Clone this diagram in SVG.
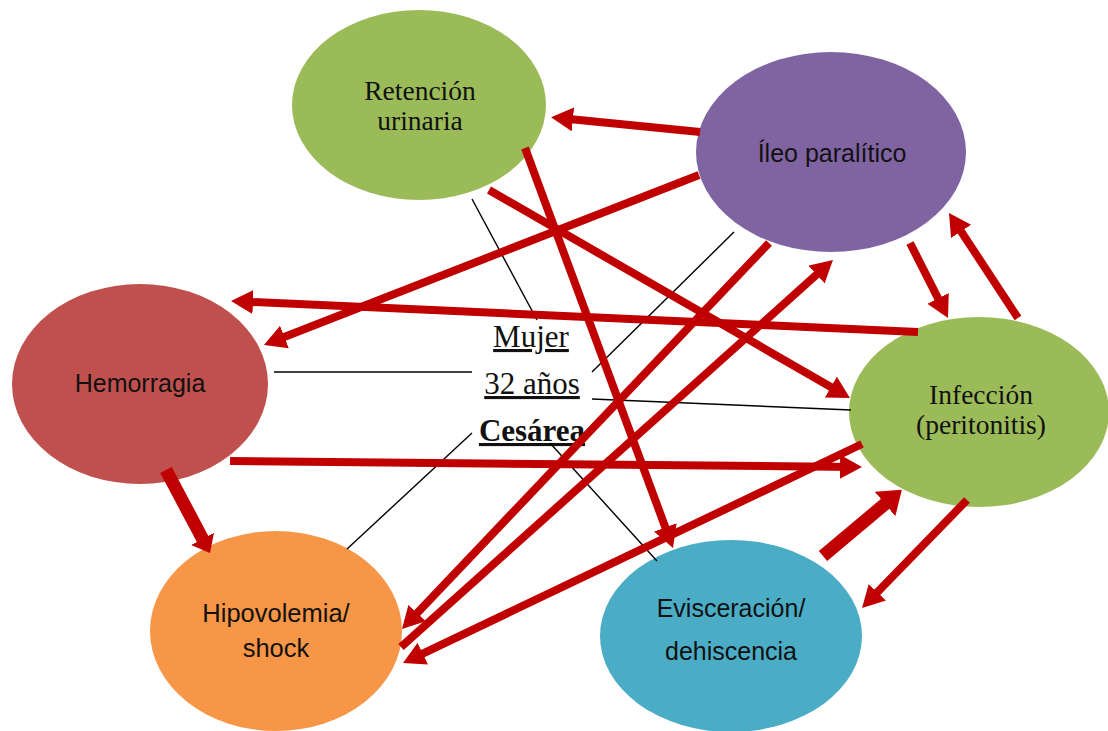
<svg xmlns="http://www.w3.org/2000/svg" width="1108" height="731" viewBox="0 0 1108 731">
<style>
.serif{font-family:"Liberation Serif","Times New Roman",serif;fill:#111;text-anchor:middle}
.sans{font-family:"Liberation Sans",Arial,sans-serif;fill:#111;text-anchor:middle}
.arr{stroke:#C00000;stroke-width:8;fill:none;marker-end:url(#ah)}
.arrb{stroke:#C00000;stroke-width:13;fill:none}
.thin{stroke:#000;stroke-width:1.4;fill:none}
.center{font-size:31px;text-decoration:underline}
</style>
<defs>
<marker id="ah" markerUnits="userSpaceOnUse" markerWidth="24" markerHeight="26" refX="14" refY="12" orient="auto">
<path d="M0,0 L22,12 L0,24 z" fill="#C00000"/>
</marker>
<marker id="ahb" markerUnits="userSpaceOnUse" markerWidth="20" markerHeight="30" refX="7" refY="13" orient="auto">
<path d="M0,0 L16,13 L0,26 z" fill="#C00000"/>
</marker>
<marker id="ahc" markerUnits="userSpaceOnUse" markerWidth="26" markerHeight="34" refX="10" refY="16" orient="auto">
<path d="M0,0 L22,16 L0,32 z" fill="#C00000"/>
</marker>
</defs>
<rect width="1108" height="731" fill="#fff"/>

<g id="retencion">
<ellipse cx="419" cy="105" rx="127" ry="95" fill="#9BBB59"/>
<text class="serif" x="420" y="100" font-size="27.5">Retención</text>
<text class="serif" x="420" y="130" font-size="27.5">urinaria</text>
</g>
<g id="ileo">
<ellipse cx="831" cy="152" rx="135" ry="100" fill="#8064A2"/>
<text class="sans" x="832" y="162" font-size="25">Íleo paralítico</text>
</g>
<g id="hemorragia">
<ellipse cx="140" cy="384" rx="128" ry="100" fill="#C0504D"/>
<text class="sans" x="140" y="392" font-size="25">Hemorragia</text>
</g>
<g id="infeccion">
<ellipse cx="979" cy="412" rx="130" ry="95" fill="#9BBB59"/>
<text class="serif" x="981" y="404" font-size="27.5">Infección</text>
<text class="serif" x="981" y="434" font-size="27.5">(peritonitis)</text>
</g>
<g id="hipovolemia">
<ellipse cx="276" cy="631" rx="126" ry="100" fill="#F79646"/>
<text class="sans" x="276" y="622" font-size="25.5">Hipovolemia/</text>
<text class="sans" x="276" y="657" font-size="25.5">shock</text>
</g>
<g id="evisceracion">
<ellipse cx="731" cy="636" rx="131" ry="96" fill="#4BACC6"/>
<text class="sans" x="731" y="617" font-size="25">Evisceración/</text>
<text class="sans" x="731" y="660" font-size="25">dehiscencia</text>
</g>

<g id="paciente">
<text class="serif center" x="531" y="347">Mujer</text>
<text class="serif center" x="532" y="394">32 años</text>
<text class="serif center" x="532" y="441" font-weight="bold">Cesárea</text>
</g>

<g id="connectors">
<line class="thin" x1="472" y1="199" x2="537" y2="320"/>
<line class="thin" x1="274" y1="372" x2="472" y2="372"/>
<line class="thin" x1="734" y1="232" x2="592" y2="372"/>
<line class="thin" x1="592" y1="399" x2="851" y2="410"/>
<line class="thin" x1="472" y1="433" x2="347" y2="549"/>
<line class="thin" x1="550" y1="443" x2="657" y2="561"/>

<line class="arr" x1="700" y1="132" x2="559" y2="118"/>
<line class="arr" x1="699" y1="175" x2="271.4" y2="342.1"/>
<line class="arr" x1="918" y1="332" x2="239" y2="301.4"/>
<line class="arr" x1="489" y1="190" x2="843" y2="394"/>
<line class="arr" x1="525" y1="148" x2="670.2" y2="540.5"/>
<line class="arr" x1="910" y1="243" x2="944.4" y2="310.9"/>
<line class="arr" x1="1018" y1="318" x2="953.4" y2="219.7"/>
<line class="arr" x1="230" y1="461" x2="854" y2="466.9"/>
<line class="arr" x1="769" y1="243" x2="407.5" y2="623.2"/>
<line class="arr" x1="401" y1="647" x2="827" y2="265.3"/>
<line class="arr" x1="862" y1="444" x2="410.2" y2="659.6"/>
<line class="arr" x1="967" y1="500" x2="867.6" y2="602.3"/>
<line class="arrb" x1="166" y1="470" x2="205.8" y2="545" marker-end="url(#ahb)"/>
<line class="arrb" x1="823" y1="556" x2="892.7" y2="497.5" marker-end="url(#ahc)"/>
</g>
</svg>
